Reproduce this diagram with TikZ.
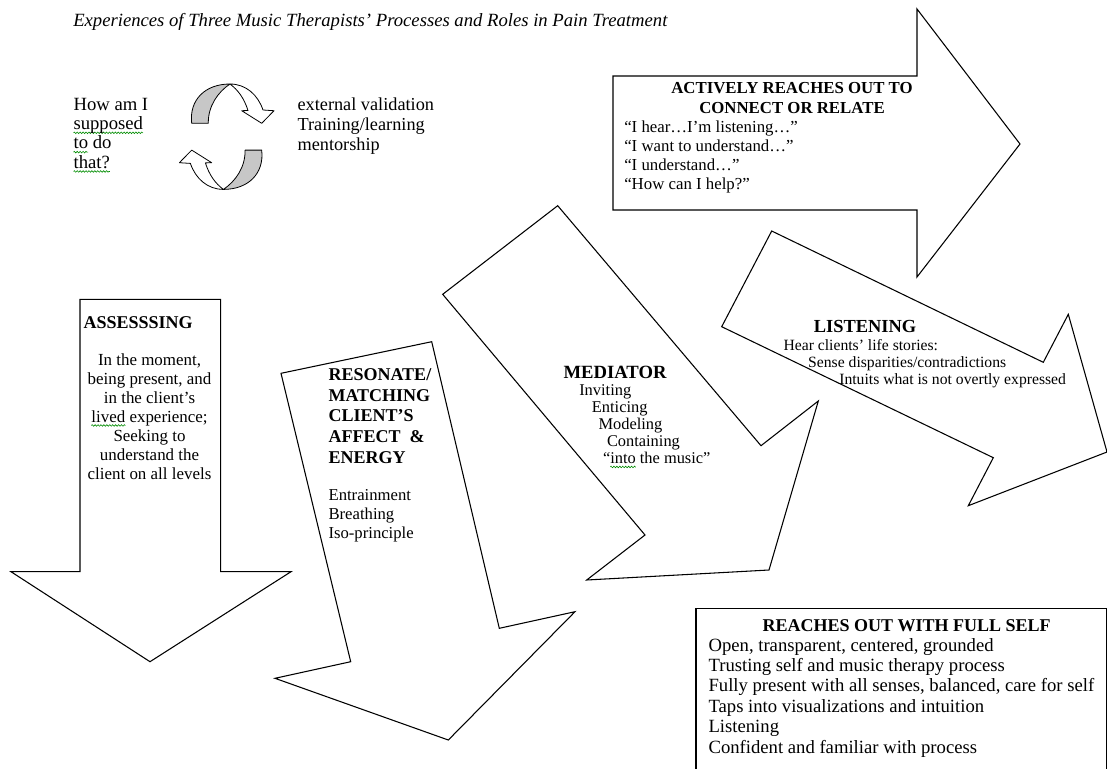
\documentclass[tikz,border=0pt]{standalone}
\usepackage{fontspec}
\setmainfont{Liberation Serif}
\usetikzlibrary{decorations.pathmorphing}
\newsavebox\gsqbox
\newcommand\gsq[1]{\sbox\gsqbox{#1}\rlap{\tikz[overlay,x=1pt,y=1pt]\draw[green!55!black,line width=0.45pt,decorate,decoration={zigzag,segment length=2.2pt,amplitude=0.6pt}] (0,-2.6) -- (\wd\gsqbox,-2.6);}\usebox\gsqbox}
\begin{document}
\begin{tikzpicture}[x=0.75pt,y=-0.75pt,
  shp/.style={draw=black,line width=0.8pt,fill=white,line join=miter},
  cyc/.style={draw=black,line width=0.6pt,line join=round},
  txt/.style={inner sep=0pt,anchor=base west,align=left},
  ctxt/.style={inner sep=0pt,anchor=base,align=center},
  hd/.style={inner sep=0pt,anchor=base west,align=left},
  chd/.style={inner sep=0pt,anchor=base,align=center}]
\useasboundingbox (0,0) rectangle (1107,768);
\clip (0,0) rectangle (1107,768);

% title
\node[txt,font=\fontsize{14}{16}\selectfont\itshape] (title) at (73,26)
  {Experiences of Three Music Therapists' Processes and Roles in Pain Treatment};

% cycle arrows
\begin{scope}
  \path[cyc,fill=black!22] (191.7,123.3) .. controls (189,100) and (205,84) .. (230,84)
     .. controls (218,92) and (208,106) .. (208.3,123.3) -- cycle;
  \path[cyc,fill=white] (230,84) .. controls (246,84) and (258,95) .. (263,110) -- (274,110.7)
     -- (261.7,123.3) -- (241.7,110.7) -- (248,110.5) .. controls (244,98) and (238,90) .. (230,84) -- cycle;
\end{scope}
\begin{scope}[rotate around={180:(226.7,136.7)}]
  \path[cyc,fill=black!22] (191.7,123.3) .. controls (189,100) and (205,84) .. (230,84)
     .. controls (218,92) and (208,106) .. (208.3,123.3) -- cycle;
  \path[cyc,fill=white] (230,84) .. controls (246,84) and (258,95) .. (263,110) -- (274,110.7)
     -- (261.7,123.3) -- (241.7,110.7) -- (248,110.5) .. controls (244,98) and (238,90) .. (230,84) -- cycle;
\end{scope}
\node[txt,font=\fontsize{14}{14.5}\selectfont] (how) at (73.3,168)
  {How am I\\\gsq{supposed}\\\gsq{to} do\\\gsq{that?}};
\node[txt,font=\fontsize{13.7}{15}\selectfont] (ext) at (297.3,150) {external validation\\Training/learning\\mentorship};

% ACTIVELY arrow
\draw[shp] (613,76) -- (917,76) -- (917,9) -- (1020,144) -- (917,277) -- (917,210) -- (613,210) -- cycle;
\node[chd,font=\fontsize{12.6}{14.3}\selectfont\bfseries] (acth) at (792,113) {ACTIVELY REACHES OUT TO\\CONNECT OR RELATE};
\node[txt,font=\fontsize{12.6}{14.2}\selectfont] (actb) at (624,189)
  {``I hear\dots I'm listening\dots''\\``I want to understand\dots''\\``I understand\dots''\\``How can I help?''};

% LISTENING arrow
\draw[shp] (771.7,231) -- (1043.3,362.3) -- (1068.3,314.3) -- (1107,452) -- (968.3,505.7)
  -- (993.3,457.7) -- (721.7,326.7) -- cycle;
\node[chd,font=\fontsize{13.8}{15}\selectfont\bfseries] (lish) at (865,332) {LISTENING};
\node[txt,font=\fontsize{11.75}{12.75}\selectfont] (lisb) at (783.3,384.5)
  {Hear clients' life stories:\\\hspace*{18.5pt}Sense disparities/contradictions\\\hspace*{41.8pt}Intuits what is not overtly expressed};

% MEDIATOR arrow
\draw[shp] (557.7,205.7) -- (761,445.7) -- (818.3,401) -- (769,570) -- (586.7,580) -- (645,535)
  -- (442.7,294.3) -- cycle;
\node[hd,font=\fontsize{14}{15}\selectfont\bfseries] (medh) at (563.3,378) {MEDIATOR};
\node[txt,font=\fontsize{12.3}{12.75}\selectfont] (medb) at (579,463.5)
  {Inviting\\\hspace*{9.5pt}Enticing\\\hspace*{14.5pt}Modeling\\\hspace*{20.8pt}Containing\\\hspace*{17.8pt}``\gsq{into} the music''};

% RESONATE arrow
\draw[shp] (281,373.3) -- (431.7,341.7) -- (499.3,628.3) -- (575,611.7) -- (448.3,740)
  -- (275,678.3) -- (350.7,661.7) -- cycle;
\node[hd,font=\fontsize{13.5}{15.5}\selectfont\bfseries] (resh) at (328.3,463.2) {RESONATE/\\MATCHING\\CLIENT'S\\AFFECT\ \ \&\\ENERGY};
\node[txt,font=\fontsize{12.5}{14}\selectfont] (resb) at (328.3,538.3)
  {Entrainment\\Breathing\\Iso-principle};

% ASSESSING arrow
\draw[shp] (80,299.3) -- (220.7,299.3) -- (220.7,571.7) -- (291,571.7) -- (150,661.7)
  -- (11,571.7) -- (80,571.7) -- cycle;
\node[hd,font=\fontsize{13.5}{15}\selectfont\bfseries] (assh) at (83.3,328) {ASSESSSING};
\node[ctxt,font=\fontsize{12.7}{14.25}\selectfont] (assb) at (149.5,479)
  {In the moment,\\being present, and\\in the client's\\\gsq{lived} experience;\\Seeking to\\understand the\\client on all levels};

% REACHES OUT box
\draw[shp] (696,608.3) rectangle (1106.5,790);
\node[chd,font=\fontsize{13.5}{15}\selectfont\bfseries] (reah) at (906.7,631) {REACHES OUT WITH FULL SELF};
\node[txt,font=\fontsize{14}{15.3}\selectfont] (reab) at (708.3,753)
  {Open, transparent, centered, grounded\\Trusting self and music therapy process\\Fully present with all senses, balanced, care for self\\Taps into visualizations and intuition\\Listening\\Confident and familiar with process};
\end{tikzpicture}
\end{document}
